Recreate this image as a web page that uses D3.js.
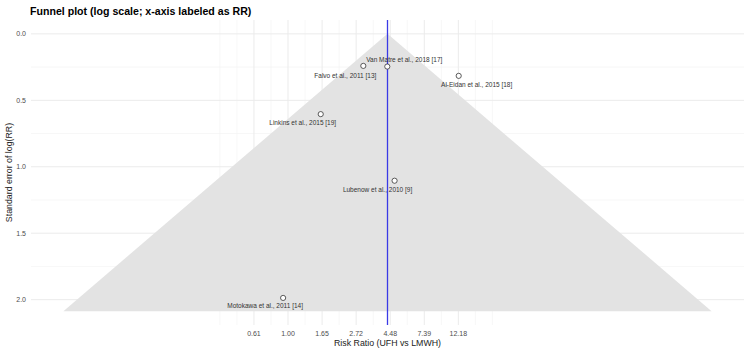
<!DOCTYPE html>
<html>
<head>
<meta charset="utf-8">
<title>Funnel plot</title>
<script src="https://cdn.jsdelivr.net/npm/d3@7"></script>
<style>
	body { margin: 0; background: #fff; font-family: "Liberation Sans", Arial, sans-serif; }
	.grid-major { stroke: #ebebeb; stroke-width: 1; }
	.grid-minor { stroke: #f2f2f2; stroke-width: 0.6; }
	.tick-label { fill: #4d4d4d; font-size: 7px; }
	.axis-title { fill: #222; font-size: 8.8px; }
	.study-label { fill: #333; font-size: 6.5px; }
</style>
</head>
<body>
<div id="chart"></div>
<script>
// study data (log RR and its standard error)
var studies = ["Van Matre et al., 2018 [17]", "Falvo et al., 2011 [13]", "Al-Eidan et al., 2015 [18]",
	"Linkins et al., 2015 [19]", "Lubenow et al., 2010 [9]", "Motokawa et al., 2011 [14]"];
var logRR = [1.457, 1.105, 2.505, 0.48, 1.564, -0.072];
var seLogRR = [0.246, 0.241, 0.316, 0.604, 1.105, 1.987];

var pooledLogRR = 1.46;
var funnelZ = 2.28;

// axis ticks
var xTicks = [-0.5, 0, 0.5, 1, 1.5, 2, 2.5];
var xTickLabels = ["0.61", "1.00", "1.65", "2.72", "4.48", "7.39", "12.18"];
var yTicks = [0, 0.5, 1, 1.5, 2];
var yTickLabels = ["0.0", "0.5", "1.0", "1.5", "2.0"];

// where each repelled label sits relative to its point (px)
var labelOffset = {
	"Van Matre et al., 2018 [17]": [17, -7],
	"Falvo et al., 2011 [13]": [-18, 9.5],
	"Al-Eidan et al., 2015 [18]": [18, 9],
	"Linkins et al., 2015 [19]": [-18, 8.7],
	"Lubenow et al., 2010 [9]": [-17, 8.3],
	"Motokawa et al., 2011 [14]": [-18, 7.7]
};

var width = 750, height = 353;
var panel = {left: 31, right: 744, top: 20, bottom: 325};

var seMax = d3.max(seLogRR) * 1.05;
var funnel = [
	[pooledLogRR - funnelZ * seMax, seMax],
	[pooledLogRR, 0],
	[pooledLogRR + funnelZ * seMax, seMax]
];

function expand(ext, f) {
	var d = (ext[1] - ext[0]) * f;
	return [ext[0] - d, ext[1] + d];
}

var x = d3.scaleLinear()
	.domain(expand(d3.extent(funnel, function(d) { return d[0]; }), 0.05))
	.range([panel.left, panel.right]);
var y = d3.scaleLinear()
	.domain(expand([0, seMax], 0.05))
	.range([panel.top, panel.bottom]);

var svg = d3.select("#chart").append("svg")
	.attr("width", width)
	.attr("height", height);

// grid lines (minor breaks like ggplot: halfway, extended one step past the majors)
var xMinor = d3.range(-1, 3.01, 0.25).filter(function(v) { return xTicks.indexOf(v) < 0; });
var yMinor = d3.range(-0.25, 2.26, 0.25).filter(function(v) {
	return yTicks.indexOf(v) < 0 && v >= y.domain()[0] && v <= y.domain()[1];
});

var grid = svg.append("g");
grid.selectAll("line.gy-minor").data(yMinor).enter().append("line")
	.attr("class", "grid-minor")
	.attr("x1", panel.left).attr("x2", panel.right)
	.attr("y1", function(d) { return y(d); }).attr("y2", function(d) { return y(d); });
grid.selectAll("line.gx-minor").data(xMinor).enter().append("line")
	.attr("class", "grid-minor")
	.attr("y1", panel.top).attr("y2", panel.bottom)
	.attr("x1", function(d) { return x(d); }).attr("x2", function(d) { return x(d); });
grid.selectAll("line.gy").data(yTicks).enter().append("line")
	.attr("class", "grid-major")
	.attr("x1", panel.left).attr("x2", panel.right)
	.attr("y1", function(d) { return y(d); }).attr("y2", function(d) { return y(d); });
grid.selectAll("line.gx").data(xTicks).enter().append("line")
	.attr("class", "grid-major")
	.attr("y1", panel.top).attr("y2", panel.bottom)
	.attr("x1", function(d) { return x(d); }).attr("x2", function(d) { return x(d); });

// funnel
svg.append("path")
	.datum(funnel)
	.attr("fill", "#e3e3e3")
	.attr("d", d3.line()
		.x(function(d) { return x(d[0]); })
		.y(function(d) { return y(d[1]); }));

// pooled estimate
svg.append("line")
	.attr("x1", x(pooledLogRR)).attr("x2", x(pooledLogRR))
	.attr("y1", panel.top).attr("y2", panel.bottom)
	.attr("stroke", "#3a3ae6")
	.attr("stroke-width", 1.3);

// points
var pts = studies.map(function(s, i) { return {name: s, lr: logRR[i], se: seLogRR[i]}; });
svg.append("g").selectAll("circle").data(pts).enter().append("circle")
	.attr("cx", function(d) { return x(d.lr); })
	.attr("cy", function(d) { return y(d.se); })
	.attr("r", 2.6)
	.attr("fill", "#fff")
	.attr("stroke", "#333")
	.attr("stroke-width", 0.8);

svg.append("g").selectAll("text").data(pts).enter().append("text")
	.attr("class", "study-label")
	.attr("text-anchor", "middle")
	.attr("dominant-baseline", "central")
	.attr("x", function(d) { return x(d.lr) + labelOffset[d.name][0]; })
	.attr("y", function(d) { return y(d.se) + labelOffset[d.name][1]; })
	.text(function(d) { return d.name; });

// axes labels
svg.append("g").selectAll("text").data(xTicks).enter().append("text")
	.attr("class", "tick-label")
	.attr("text-anchor", "middle")
	.attr("dominant-baseline", "central")
	.attr("x", function(d) { return x(d); })
	.attr("y", 333.5)
	.text(function(d, i) { return xTickLabels[i]; });

svg.append("g").selectAll("text").data(yTicks).enter().append("text")
	.attr("class", "tick-label")
	.attr("text-anchor", "end")
	.attr("dominant-baseline", "central")
	.attr("x", 26)
	.attr("y", function(d) { return y(d); })
	.text(function(d, i) { return yTickLabels[i]; });

svg.append("text")
	.attr("class", "axis-title")
	.attr("text-anchor", "middle")
	.attr("x", (panel.left + panel.right) / 2)
	.attr("y", 346)
	.text("Risk Ratio (UFH vs LMWH)");

svg.append("text")
	.attr("class", "axis-title")
	.attr("text-anchor", "middle")
	.attr("transform", "translate(12," + ((panel.top + panel.bottom) / 2) + ") rotate(-90)")
	.text("Standard error of log(RR)");

svg.append("text")
	.attr("x", panel.left - 1)
	.attr("y", 14.5)
	.attr("font-size", "10.6px")
	.attr("font-weight", "bold")
	.attr("fill", "#000")
	.text("Funnel plot (log scale; x-axis labeled as RR)");
</script>
</body>
</html>
